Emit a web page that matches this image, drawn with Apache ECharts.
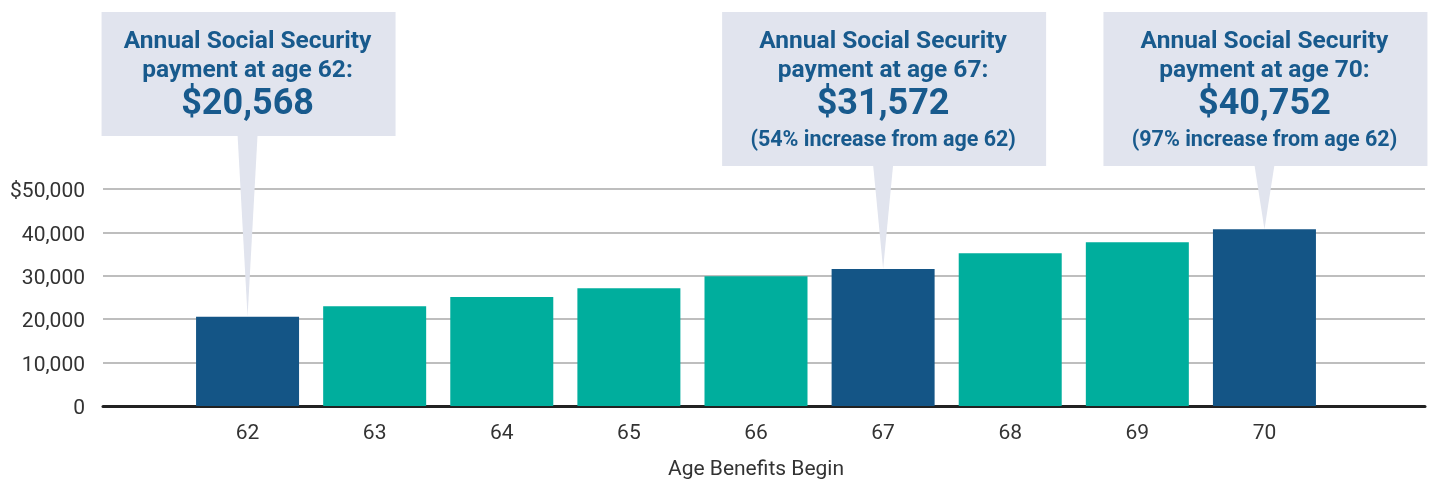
<!DOCTYPE html>
<html>
<head>
<meta charset="utf-8">
<script src="https://cdn.jsdelivr.net/npm/echarts@6/dist/echarts.min.js"></script>
<style>
  html, body { margin: 0; padding: 0; background: #ffffff; }
  #chart { width: 1429px; height: 481px; }
</style>
</head>
<body>
<div id="chart"></div>
<script>
// ---- data ----
const ages = ['62', '63', '64', '65', '66', '67', '68', '69', '70'];
const payments = [20568, 23000, 25100, 27150, 29900, 31572, 35200, 37750, 40752];
const highlightedAges = ['62', '67', '70'];
const calloutAges = ['62', '67', '70'];
const calloutNotes = ['', '(54% increase from age 62)', '(97% increase from age 62)'];
const yTicks = [0, 10000, 20000, 30000, 40000, 50000];
const xAxisTitle = 'Age Benefits Begin';

// ---- styles ----
const DARK = '#145586';
const TEAL = '#00ae9d';
const BOX = '#e1e4ee';
const TEXTBLUE = '#185a8d';
const FONT = 'Roboto, "Noto Sans", sans-serif';

const chart = echarts.init(document.getElementById('chart'), null, { renderer: 'canvas' });

const barData = ages.map((a, i) => ({
  value: payments[i],
  itemStyle: { color: highlightedAges.includes(a) ? DARK : TEAL }
}));

const calloutData = calloutAges.map((a, k) => {
  const i = ages.indexOf(a);
  return [i, payments[i], k];
});

function fmtMoney(v) {
  return '$' + v.toLocaleString('en-US');
}

const yMax = yTicks[yTicks.length - 1];
const yStep = yTicks[1] - yTicks[0];

const option = {
  animation: false,
  backgroundColor: '#ffffff',
  grid: [
    { left: 103, right: 4, top: 189, bottom: 75, containLabel: false },
    { left: 184, right: 101, top: 189, bottom: 75, containLabel: false }
  ],
  xAxis: [
    {
      gridIndex: 0, type: 'value', min: 0, max: 1,
      axisLabel: { show: false }, axisTick: { show: false }, splitLine: { show: false },
      axisLine: { show: true, lineStyle: { color: '#222222', width: 3 } }
    },
    {
      gridIndex: 1, type: 'category', data: ages,
      axisLine: { show: false }, axisTick: { show: false },
      axisLabel: { color: '#333333', fontSize: 21, fontFamily: FONT, margin: 17 },
      name: xAxisTitle, nameLocation: 'middle', nameGap: 53,
      nameTextStyle: { color: '#333333', fontSize: 21, fontFamily: FONT }
    }
  ],
  yAxis: [
    {
      gridIndex: 0, type: 'value', min: 0, max: yMax, interval: yStep,
      axisLine: { show: false }, axisTick: { show: false },
      axisLabel: {
        margin: 18,
        formatter: v => '{t|' + (v === yMax ? '$' : '') + v.toLocaleString('en-US') + '}',
        rich: {
          t: { color: '#333333', fontSize: 21, fontFamily: FONT, padding: [6, 0, 0, 0] }
        }
      },
      splitLine: { show: true, lineStyle: { color: '#a8a8a8', width: 1.5 } }
    },
    {
      gridIndex: 1, type: 'value', min: 0, max: yMax, interval: yStep,
      show: false, splitLine: { show: false }
    }
  ],
  series: [
    {
      type: 'bar', xAxisIndex: 1, yAxisIndex: 1,
      data: barData, barWidth: 103, z: 3
    },
    {
      type: 'custom', xAxisIndex: 1, yAxisIndex: 1, z: 5, clip: false,
      data: calloutData,
      renderItem: function (params, api) {
        const idx = api.value(0);
        const val = api.value(1);
        const k = api.value(2);
        const pt = api.coord([idx, val]);
        const x = pt[0];
        const tipY = pt[1];
        const note = calloutNotes[k];
        const hasNote = note.length > 0;
        const boxW = hasNote ? 324 : 294;
        const boxTop = 12;
        const boxH = hasNote ? 154 : 124;
        const boxBottom = boxTop + boxH;
        const children = [
          {
            type: 'polygon',
            shape: { points: [[x - 10, boxBottom - 1], [x + 10, boxBottom - 1], [x, tipY]] },
            style: { fill: BOX }
          },
          {
            type: 'rect',
            shape: { x: x - boxW / 2 + 1, y: boxTop, width: boxW, height: boxH },
            style: { fill: BOX }
          },
          {
            type: 'text',
            style: {
              x: x, y: boxTop + 30, text: 'Annual Social Security',
              fill: TEXTBLUE, font: 'bold 24.5px ' + FONT, align: 'center', verticalAlign: 'middle'
            }
          },
          {
            type: 'text',
            style: {
              x: x, y: boxTop + 59, text: 'payment at age ' + ages[idx] + ':',
              fill: TEXTBLUE, font: 'bold 24.5px ' + FONT, align: 'center', verticalAlign: 'middle'
            }
          },
          {
            type: 'text',
            style: {
              x: x, y: boxTop + 93, text: fmtMoney(val),
              fill: TEXTBLUE, font: 'bold 36px ' + FONT, align: 'center', verticalAlign: 'middle'
            }
          }
        ];
        if (hasNote) {
          children.push({
            type: 'text',
            style: {
              x: x, y: boxTop + 129, text: note,
              fill: TEXTBLUE, font: 'bold 21.5px ' + FONT, align: 'center', verticalAlign: 'middle'
            }
          });
        }
        return { type: 'group', children: children };
      }
    }
  ]
};

chart.setOption(option);
</script>
</body>
</html>
